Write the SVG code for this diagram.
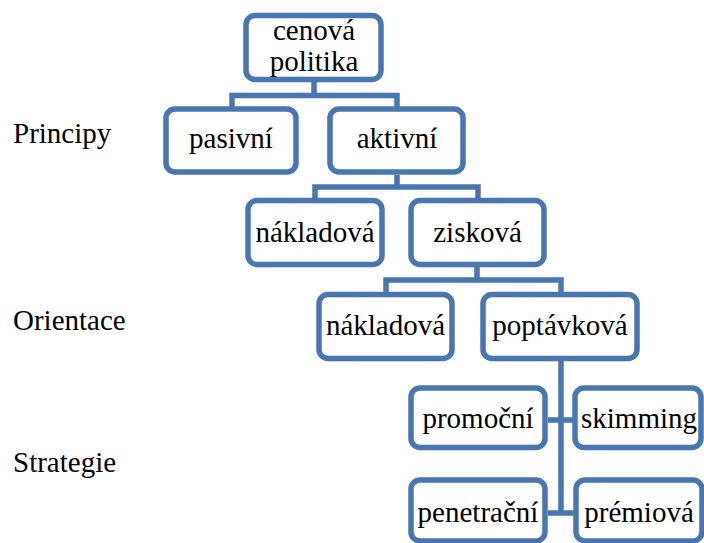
<svg xmlns="http://www.w3.org/2000/svg" width="704" height="543" viewBox="0 0 704 543" font-family="Liberation Serif, Times New Roman, serif" font-size="29">
<style>
.box{fill:#fff;stroke:#4A76AF;stroke-width:5.5}
.con{fill:none;stroke:#4A76AF;stroke-width:5.5;stroke-linejoin:miter}
.c{text-anchor:middle}
</style>
<rect width="704" height="543" fill="#fff"/>
<g id="connectors">
<path class="con" d="M314 82V95.5M232 109V95.5H397V109"/>
<path class="con" d="M397 175V187M315 200V187H478V200"/>
<path class="con" d="M477 267V280M386 294V280H561V294"/>
<path class="con" d="M561 361V513M548 420H573M548 513H574"/>
</g>
<g id="label-principy"><text x="13" y="143">Principy</text></g>
<g id="label-orientace"><text x="13" y="330">Orientace</text></g>
<g id="label-strategie"><text x="13" y="472">Strategie</text></g>
<g id="n-cenova">
<rect class="box" x="246" y="15.5" width="135" height="64" rx="9"/>
<text class="c" x="314" y="40">cenová</text>
<text class="c" x="314" y="71">politika</text>
</g>
<g id="n-pasivni">
<rect class="box" x="166" y="109" width="130" height="63" rx="9"/>
<text class="c" x="231" y="148">pasivní</text>
</g>
<g id="n-aktivni">
<rect class="box" x="330" y="109" width="133" height="63" rx="9"/>
<text class="c" x="397" y="148">aktivní</text>
</g>
<g id="n-nakladova1">
<rect class="box" x="248" y="200.5" width="134" height="64" rx="9"/>
<text class="c" x="315" y="242">nákladová</text>
</g>
<g id="n-ziskova">
<rect class="box" x="411" y="200.5" width="133" height="64" rx="9"/>
<text class="c" x="477.5" y="242">zisková</text>
</g>
<g id="n-nakladova2">
<rect class="box" x="319" y="294.5" width="133" height="64" rx="9"/>
<text class="c" x="385.5" y="335">nákladová</text>
</g>
<g id="n-poptavkova">
<rect class="box" x="483" y="294.5" width="154" height="64" rx="9"/>
<text class="c" x="560" y="335">poptávková</text>
</g>
<g id="n-promocni">
<rect class="box" x="411" y="388" width="134" height="59.5" rx="9"/>
<text class="c" x="478" y="428">promoční</text>
</g>
<g id="n-skimming">
<rect class="box" x="575" y="388" width="126" height="59.5" rx="9"/>
<text class="c" x="639" y="428">skimming</text>
</g>
<g id="n-penetracni">
<rect class="box" x="411" y="480" width="134" height="61" rx="9"/>
<text class="c" x="478" y="522">penetrační</text>
</g>
<g id="n-premiova">
<rect class="box" x="576" y="480" width="126" height="61" rx="9"/>
<text class="c" x="639" y="522">prémiová</text>
</g>
</svg>
